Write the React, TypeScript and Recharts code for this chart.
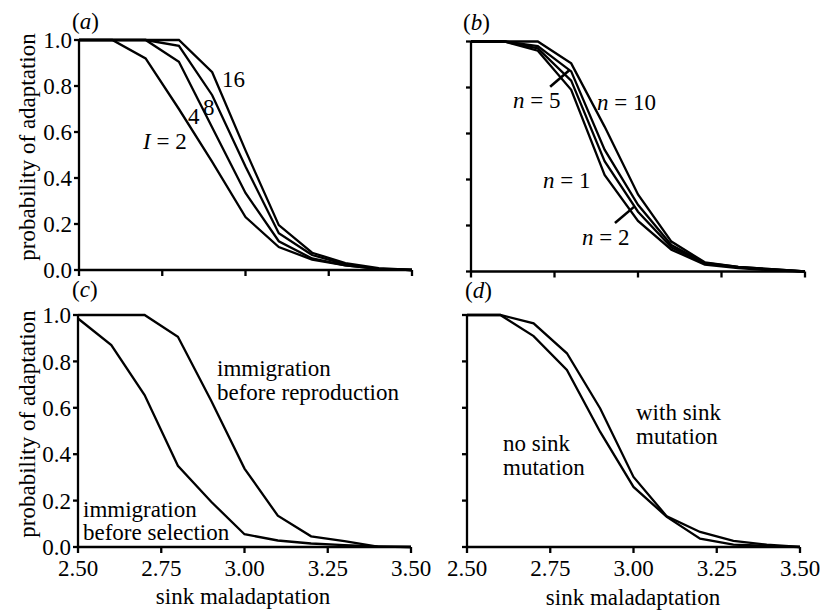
import React from "react";
import { Line, LineChart, ReferenceLine, XAxis, YAxis } from "recharts";

// sink maladaptation, sampled every 0.1
const xs = [2.5, 2.6, 2.7, 2.8, 2.9, 3.0, 3.1, 3.2, 3.3, 3.4, 3.5];

// (a) immigration rate I
const immig2 = [1, 1, 0.92, 0.7, 0.47, 0.23, 0.1, 0.045, 0.02, 0.005, 0];
const immig4 = [1, 1, 1, 0.905, 0.62, 0.335, 0.125, 0.05, 0.02, 0.005, 0];
const immig8 = [1, 1, 1, 0.975, 0.76, 0.45, 0.16, 0.065, 0.025, 0.005, 0];
const immig16 = [1, 1, 1, 1, 0.86, 0.52, 0.195, 0.075, 0.03, 0.008, 0];

// (b) number of loci n
const loci1 = [1, 1, 0.96, 0.79, 0.42, 0.22, 0.095, 0.03, 0.015, 0.005, 0];
const loci2 = [1, 1, 0.97, 0.83, 0.48, 0.26, 0.105, 0.035, 0.018, 0.008, 0];
const loci5 = [1, 1, 0.98, 0.87, 0.53, 0.29, 0.115, 0.037, 0.02, 0.01, 0];
const loci10 = [1, 1, 1, 0.905, 0.63, 0.335, 0.13, 0.04, 0.02, 0.01, 0];

// (c) life-cycle order
const beforeReproduction = [1, 1, 1, 0.906, 0.63, 0.338, 0.135, 0.046, 0.025, 0.002, 0];
const beforeSelection = [0.985, 0.87, 0.655, 0.35, 0.195, 0.055, 0.028, 0.015, 0.008, 0.003, 0];

// (d) sink mutation
const withSinkMutation = [1, 1, 0.964, 0.835, 0.597, 0.302, 0.132, 0.065, 0.026, 0.01, 0];
const noSinkMutation = [1, 1, 0.909, 0.763, 0.496, 0.259, 0.13, 0.036, 0.01, 0.005, 0];

const xTicks = [2.5, 2.75, 3.0, 3.25, 3.5];
const yTicks = [0, 0.2, 0.4, 0.6, 0.8, 1.0];

const FONT = "Liberation Serif";
const FS = 23;
const INK = "#000";
const LW = 2.3;

function rows(series: Record<string, number[]>) {
  return xs.map((x, i) => {
    const r: Record<string, number> = { x };
    for (const k of Object.keys(series)) r[k] = series[k][i];
    return r;
  });
}

const noTick = () => <g />;

type PanelProps = {
  left: number;
  top: number;
  width: number;
  height: number;
  yWidth: number;
  mTop: number;
  mRight: number;
  xHeight: number;
  showX: boolean;
  showY: boolean;
  series: Record<string, number[]>;
  children?: React.ReactNode;
};

function Panel(p: PanelProps) {
  const data = rows(p.series);
  const tickStyle = { fill: INK, fontSize: FS, fontFamily: FONT };
  return (
    <div style={{ position: "absolute", left: p.left, top: p.top }}>
      <LineChart
        width={p.width}
        height={p.height}
        data={data}
        margin={{ top: p.mTop, right: p.mRight, left: 0, bottom: 0 }}
      >
        <XAxis
          dataKey="x"
          type="number"
          domain={[2.5, 3.5]}
          ticks={xTicks}
          height={p.xHeight}
          tickSize={6}
          tickMargin={7}
          tick={p.showX ? tickStyle : noTick}
          tickFormatter={(v: number) => v.toFixed(2)}
          axisLine={{ stroke: INK, strokeWidth: LW }}
          tickLine={{ stroke: INK, strokeWidth: LW }}
          interval={0}
        />
        <YAxis
          type="number"
          domain={[0, 1]}
          ticks={yTicks}
          width={p.yWidth}
          tickSize={5}
          tickMargin={2}
          tick={p.showY ? tickStyle : noTick}
          tickFormatter={(v: number) => v.toFixed(1)}
          axisLine={{ stroke: INK, strokeWidth: LW }}
          tickLine={{ stroke: INK, strokeWidth: LW }}
          interval={0}
        />
        {Object.keys(p.series).map((k) => (
          <Line
            key={k}
            dataKey={k}
            type="linear"
            stroke={INK}
            strokeWidth={LW}
            dot={false}
            isAnimationActive={false}
          />
        ))}
        {p.children}
      </LineChart>
    </div>
  );
}

function T({
  x,
  y,
  anchor,
  rotate,
  children,
}: {
  x: number;
  y: number;
  anchor?: "start" | "middle" | "end";
  rotate?: number;
  children: React.ReactNode;
}) {
  return (
    <text
      x={x}
      y={y}
      fontSize={FS}
      fontFamily={FONT}
      fill={INK}
      textAnchor={anchor ?? "start"}
      transform={rotate ? `rotate(${rotate}, ${x}, ${y})` : undefined}
    >
      {children}
    </text>
  );
}

const It = ({ children }: { children: React.ReactNode }) => (
  <tspan fontStyle="italic">{children}</tspan>
);

export default function App() {
  return (
    <div style={{ position: "absolute", left: 0, top: 0, width: 826, height: 612 }}>
      <Panel
        left={0}
        top={0}
        width={450}
        height={300}
        yWidth={79}
        mTop={40}
        mRight={38}
        xHeight={30}
        showX={false}
        showY={true}
        series={{ immig2, immig4, immig8, immig16 }}
      />
      <Panel
        left={410}
        top={0}
        width={416}
        height={300}
        yWidth={61}
        mTop={41.5}
        mRight={21}
        xHeight={28.5}
        showX={false}
        showY={false}
        series={{ loci1, loci2, loci5, loci10 }}
      >
        <ReferenceLine
          segment={[
            { x: 2.737, y: 0.803 },
            { x: 2.796, y: 0.877 },
          ]}
          stroke={INK}
          strokeWidth={2.6}
        />
        <ReferenceLine
          segment={[
            { x: 2.931, y: 0.211 },
            { x: 2.988, y: 0.281 },
          ]}
          stroke={INK}
          strokeWidth={2.6}
        />
      </Panel>
      <Panel
        left={410}
        top={300}
        width={416}
        height={312}
        yWidth={57}
        mTop={15}
        mRight={26}
        xHeight={65}
        showX={true}
        showY={false}
        series={{ withSinkMutation, noSinkMutation }}
      />
      <Panel
        left={0}
        top={300}
        width={450}
        height={312}
        yWidth={78}
        mTop={15}
        mRight={39}
        xHeight={65}
        showX={true}
        showY={true}
        series={{ beforeReproduction, beforeSelection }}
      />

      <svg width={826} height={612} style={{ position: "absolute", left: 0, top: 0 }}>
        {/* panel letters */}
        <T x={72} y={29}>
          (<It>a</It>)
        </T>
        <T x={463} y={30}>
          (<It>b</It>)
        </T>
        <T x={72} y={297}>
          (<It>c</It>)
        </T>
        <T x={465} y={298}>
          (<It>d</It>)
        </T>

        {/* axis titles */}
        <T x={35} y={147} anchor="middle" rotate={-90}>
          probability of adaptation
        </T>
        <T x={35} y={424} anchor="middle" rotate={-90}>
          probability of adaptation
        </T>
        <T x={243} y={604} anchor="middle">
          sink maladaptation
        </T>
        <T x={633} y={605} anchor="middle">
          sink maladaptation
        </T>

        {/* (a) annotations */}
        <T x={222} y={87}>16</T>
        <T x={203} y={115}>8</T>
        <T x={188} y={124}>4</T>
        <T x={143} y={149}>
          <It>I</It> = 2
        </T>

        {/* (b) annotations */}
        <T x={513} y={108}>
          <It>n</It> = 5
        </T>
        <T x={597} y={110}>
          <It>n</It> = 10
        </T>
        <T x={543} y={188}>
          <It>n</It> = 1
        </T>
        <T x={582} y={245}>
          <It>n</It> = 2
        </T>

        {/* (c) annotations */}
        <T x={217} y={376}>immigration</T>
        <T x={217} y={400}>before reproduction</T>
        <T x={83} y={517}>immigration</T>
        <T x={83} y={540}>before selection</T>

        {/* (d) annotations */}
        <T x={636} y={420}>with sink</T>
        <T x={636} y={444}>mutation</T>
        <T x={503} y={451}>no sink</T>
        <T x={503} y={475}>mutation</T>
      </svg>
    </div>
  );
}
